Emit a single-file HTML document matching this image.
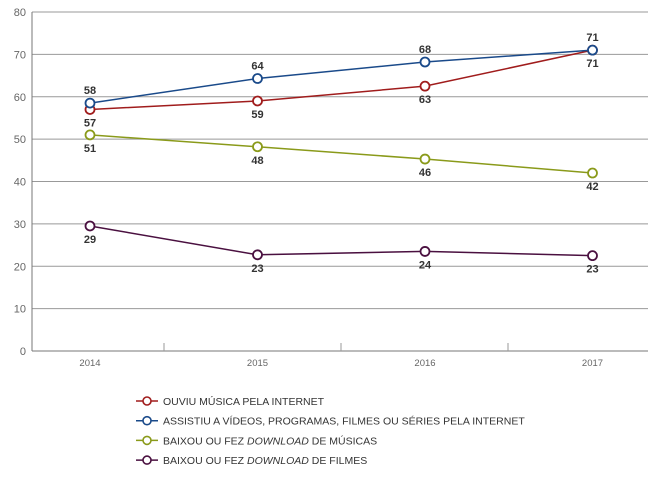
<!DOCTYPE html>
<html><head><meta charset="utf-8"><style>
body{margin:0;background:#fff;font-family:"Liberation Sans",sans-serif}
svg text{font-family:"Liberation Sans",sans-serif}
</style></head><body>
<svg id="c" width="650" height="474"></svg>
<script>
const categories=["2014","2015","2016","2017"];
const seriesNames=["OUVIU MÚSICA PELA INTERNET","ASSISTIU A VÍDEOS, PROGRAMAS, FILMES OU SÉRIES PELA INTERNET","BAIXOU OU FEZ <i>DOWNLOAD</i> DE MÚSICAS","BAIXOU OU FEZ <i>DOWNLOAD</i> DE FILMES"];
const musica=[57,59,62.5,71];
const videos=[58.5,64.3,68.2,71];
const baixouMusicas=[51,48.2,45.3,42];
const baixouFilmes=[29.5,22.7,23.5,22.5];
const musicaLabels=["57","59","63","71"];
const videosLabels=["58","64","68","71"];
const baixouMusicasLabels=["51","48","46","42"];
const baixouFilmesLabels=["29","23","24","23"];
const yTicks=[0,10,20,30,40,50,60,70,80];
const NS="http://www.w3.org/2000/svg";
const svg=document.getElementById('c');
function y(v){return 351-v*(339/80);}
function x(i){return 90+i*167.5;}
function mk(t,a,p){const e=document.createElementNS(NS,t);for(const k in a)e.setAttribute(k,a[k]);(p||svg).appendChild(e);return e;}
yTicks.forEach(v=>{
 const l=mk('line',{x1:32,x2:648,y1:y(v),y2:y(v),stroke:v===0?'#777':'#999','stroke-width':1});
 
 
 const t=mk('text',{x:26,y:y(v)+4,'text-anchor':'end','font-size':11,fill:'#666'});t.textContent=v;
 
 
});
mk('line',{x1:32,x2:32,y1:12,y2:351,stroke:'#777'});
[164,341,508].forEach(px=>mk('line',{x1:px,x2:px,y1:343,y2:351,stroke:'#999'}));
categories.forEach((c,i)=>{const t=mk('text',{x:x(i),y:366,'text-anchor':'middle','font-size':9.5,fill:'#666'});t.textContent=c;
 
 });
const series=[
 {d:musica,lab:musicaLabels,c:'#a01c1c',pos:[1,1,1,1],n:'musica'},
 {d:videos,lab:videosLabels,c:'#1a4a8a',pos:[-1,-1,-1,-1],n:'videos'},
 {d:baixouMusicas,lab:baixouMusicasLabels,c:'#8a9a1a',pos:[1,1,1,1],n:'baixou-musicas'},
 {d:baixouFilmes,lab:baixouFilmesLabels,c:'#4a1040',pos:[1,1,1,1],n:'baixou-filmes'}];
series.forEach(s=>{
 const p=mk('polyline',{points:s.d.map((v,i)=>x(i)+','+y(v)).join(' '),fill:'none',stroke:s.c,'stroke-width':1.5});
 
 
});
series.forEach(s=>{
 s.d.forEach((v,i)=>{
  const c=mk('circle',{cx:x(i),cy:y(v),r:4.5,fill:'#fff',stroke:s.c,'stroke-width':1.8});
  
  
  const t=mk('text',{x:x(i),y:y(v)+(s.pos[i]>0?17:-9),'text-anchor':'middle','font-size':11,'font-weight':'bold',fill:'#333'});
  t.textContent=s.lab[i];
  
  
 });
});
series.forEach((s,k)=>{
 const yy=401+k*19.7;
 const g=mk('g',{});
 
 
 mk('line',{x1:136,x2:158,y1:yy,y2:yy,stroke:s.c,'stroke-width':1.5},g);
 mk('circle',{cx:147,cy:yy,r:4,fill:'#fff',stroke:s.c,'stroke-width':1.6},g);
 const t=mk('text',{x:163,y:yy+4,'font-size':10.5,fill:'#333'},g);
 t.innerHTML=seriesNames[k].replace(/<i>(.*?)<\/i>/,'<tspan font-style="italic">$1</tspan>');
});
</script>
</body></html>
